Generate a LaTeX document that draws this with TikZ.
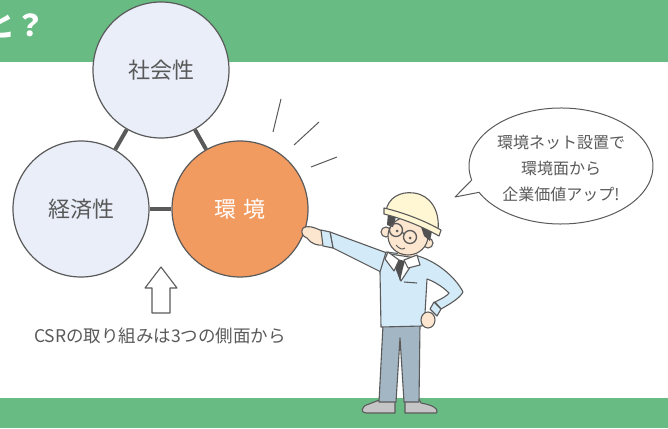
\documentclass[tikz,border=0pt]{standalone}
\usepackage{fontspec}
\newfontfamily\jpfont{Noto Sans CJK JP}
\definecolor{band}{HTML}{68BC83}
\definecolor{pale}{HTML}{E9EEF9}
\definecolor{accent}{HTML}{F29B61}
\definecolor{linegray}{HTML}{5A5A5A}
\definecolor{ink}{HTML}{595959}
\definecolor{skin}{HTML}{FCE6CF}
\definecolor{sweater}{HTML}{D3EAF8}
\definecolor{trousers}{HTML}{A3B6C4}
\definecolor{shoe}{HTML}{C5C5C5}
\definecolor{helmet}{HTML}{FFF6D3}
\definecolor{hair}{HTML}{505050}
\begin{document}
\begin{tikzpicture}[x=1pt, y=-1pt,
  ring/.style={circle, draw=linegray, line width=1.2pt, minimum size=136pt, inner sep=0pt, text=ink, font=\jpfont\fontsize{22}{22}\selectfont},
  link/.style={linegray, line width=4pt},
  ray/.style={linegray, line width=1pt},
  outline/.style={draw=linegray, line width=1.1pt, line join=round}]
  \useasboundingbox (0,0) rectangle (668,428);
  \clip (0,0) rectangle (668,428);
  % green bands
  \fill[band] (0,0) rectangle (668,62);
  \fill[band] (0,398) rectangle (668,428);
  \node[anchor=west, text=white, font=\jpfont\bfseries\fontsize{30}{30}\selectfont] (title) at (-18,25) {と？};
  % the three circles
  \node[ring, fill=pale] (shakai) at (161,70) {社会性};
  \node[ring, fill=pale] (keizai) at (81,209) {経済性};
  \node[ring, fill=accent, text=white] (kankyo) at (240,209) {環\hspace{0.35em}境};
  \draw[link] (shakai) -- (keizai);
  \draw[link] (shakai) -- (kankyo);
  \draw[link] (keizai) -- (kankyo);
  \draw[ray] (281,99) -- (273,132);
  \draw[ray] (319,122) -- (294,145);
  \draw[ray] (337,157) -- (311,167);
  % hollow arrow and caption
  \draw[outline, fill=white] (161,267) -- (177,288) -- (170,288) -- (170,313) -- (152,313) -- (152,288) -- (145,288) -- cycle;
  \node[text=ink, font=\jpfont\fontsize{17.5}{17.5}\selectfont] (csr) at (160,336) {CSRの取り組みは3つの側面から};
  % speech bubble
  \draw[outline, line width=1pt, fill=white] (561,166) ++(166:92 and 58) arc[start angle=166, end angle=513, x radius=92, y radius=58] -- (455,197) -- cycle;
  \node[text=ink, align=center, font=\jpfont\fontsize{16}{26}\selectfont] (talk) at (561,168) {環境ネット設置で\\環境面から\\企業価値アップ!};
  % worker: shoes and trousers
  \draw[outline, fill=shoe] (382,399) -- (395,399) -- (395,413) -- (366,413) .. controls (360,413) and (361,406) .. (369,404) -- cycle;
  \draw[outline, fill=shoe] (405,399) -- (419,399) -- (421,403) .. controls (432,405) and (438,408) .. (437,412) -- (436,413) -- (405,413) -- cycle;
  \draw[outline, fill=trousers] (383,325) -- (379,402) -- (396,402) -- (400,338) -- (404,402) -- (419,402) -- (420,325) -- cycle;
  % raised arm, hand on the circle
  \draw[outline, fill=skin] (322,231) .. controls (314,227) and (307,225) .. (303,228) .. controls (300,232) and (303,237) .. (307,238) .. controls (311,244) and (318,246) .. (324,245) -- cycle;
  \draw[outline, fill=sweater] (387,253) -- (330,232) -- (333,248) -- (381,272) -- cycle;
  \draw[outline, fill=sweater] (321,230) -- (330,232) -- (333,248) -- (323,246) -- cycle;
  % body with the arm on the hip
  \draw[outline, fill=sweater] (386,252) -- (418,256) .. controls (438,262) and (456,278) .. (463,292) .. controls (460,298) and (450,304) .. (441,309) -- (435,302) .. controls (441,299) and (447,296) .. (449,293) .. controls (442,286) and (433,281) .. (427,279) -- (425,313) .. controls (424,319) and (423,323) .. (422,326) -- (381,327) -- (380,272) -- cycle;
  \draw[outline, fill=skin] (428,320) ellipse[x radius=7, y radius=8];
  \draw[outline, fill=sweater] (434,302) -- (441,309) -- (437,316) -- (430,309) -- cycle;
  \draw[outline] (404,282) -- (417,283);
  % collar and tie
  \fill[skin] (398,245) rectangle (415,260);
  \draw[outline, fill=white] (390,254) -- (416,258) -- (401,281) -- cycle;
  \fill[hair] (397,259) -- (405,261) -- (403,268) -- (400,281) -- (396,268) -- cycle;
  \draw[outline, fill=white] (388,252) -- (399,260) -- (394,271) -- (385,259) -- cycle;
  \draw[outline, fill=white] (404,260) -- (417,255) -- (420,265) -- (408,268) -- cycle;
  % head
  \draw[outline, fill=skin] (386,232) circle[radius=5];
  \draw[outline, fill=skin] (428,243) circle[radius=5];
  \draw[outline, fill=skin] (408,236) ellipse[x radius=20, y radius=19];
  \fill[hair] (388,213) -- (396,217) -- (393,227) -- (387,225) -- cycle;
  \fill[hair] (420,224) -- (432,231) -- (430,241) -- (424,236) -- cycle;
  \draw[linegray, line width=1.3pt] (396,230) circle[radius=6.5] (410,237) circle[radius=6.5] (402,232) -- (404,234);
  \fill[ink] (397,231) circle[radius=1.5] (410,238) circle[radius=1.5];
  \draw[linegray, line width=1pt] (396,245) .. controls (399,249) and (403,250) .. (405,248);
  % helmet
  \draw[outline, fill=helmet] (386,211) .. controls (388,198) and (400,191) .. (414,193) .. controls (430,195) and (440,210) .. (438,230) -- cycle;
  \draw[outline, fill=helmet] (384,208) .. controls (405,213) and (425,221) .. (441,230) -- (439,236) .. controls (423,227) and (404,219) .. (384,214) -- cycle;
\end{tikzpicture}
\end{document}
